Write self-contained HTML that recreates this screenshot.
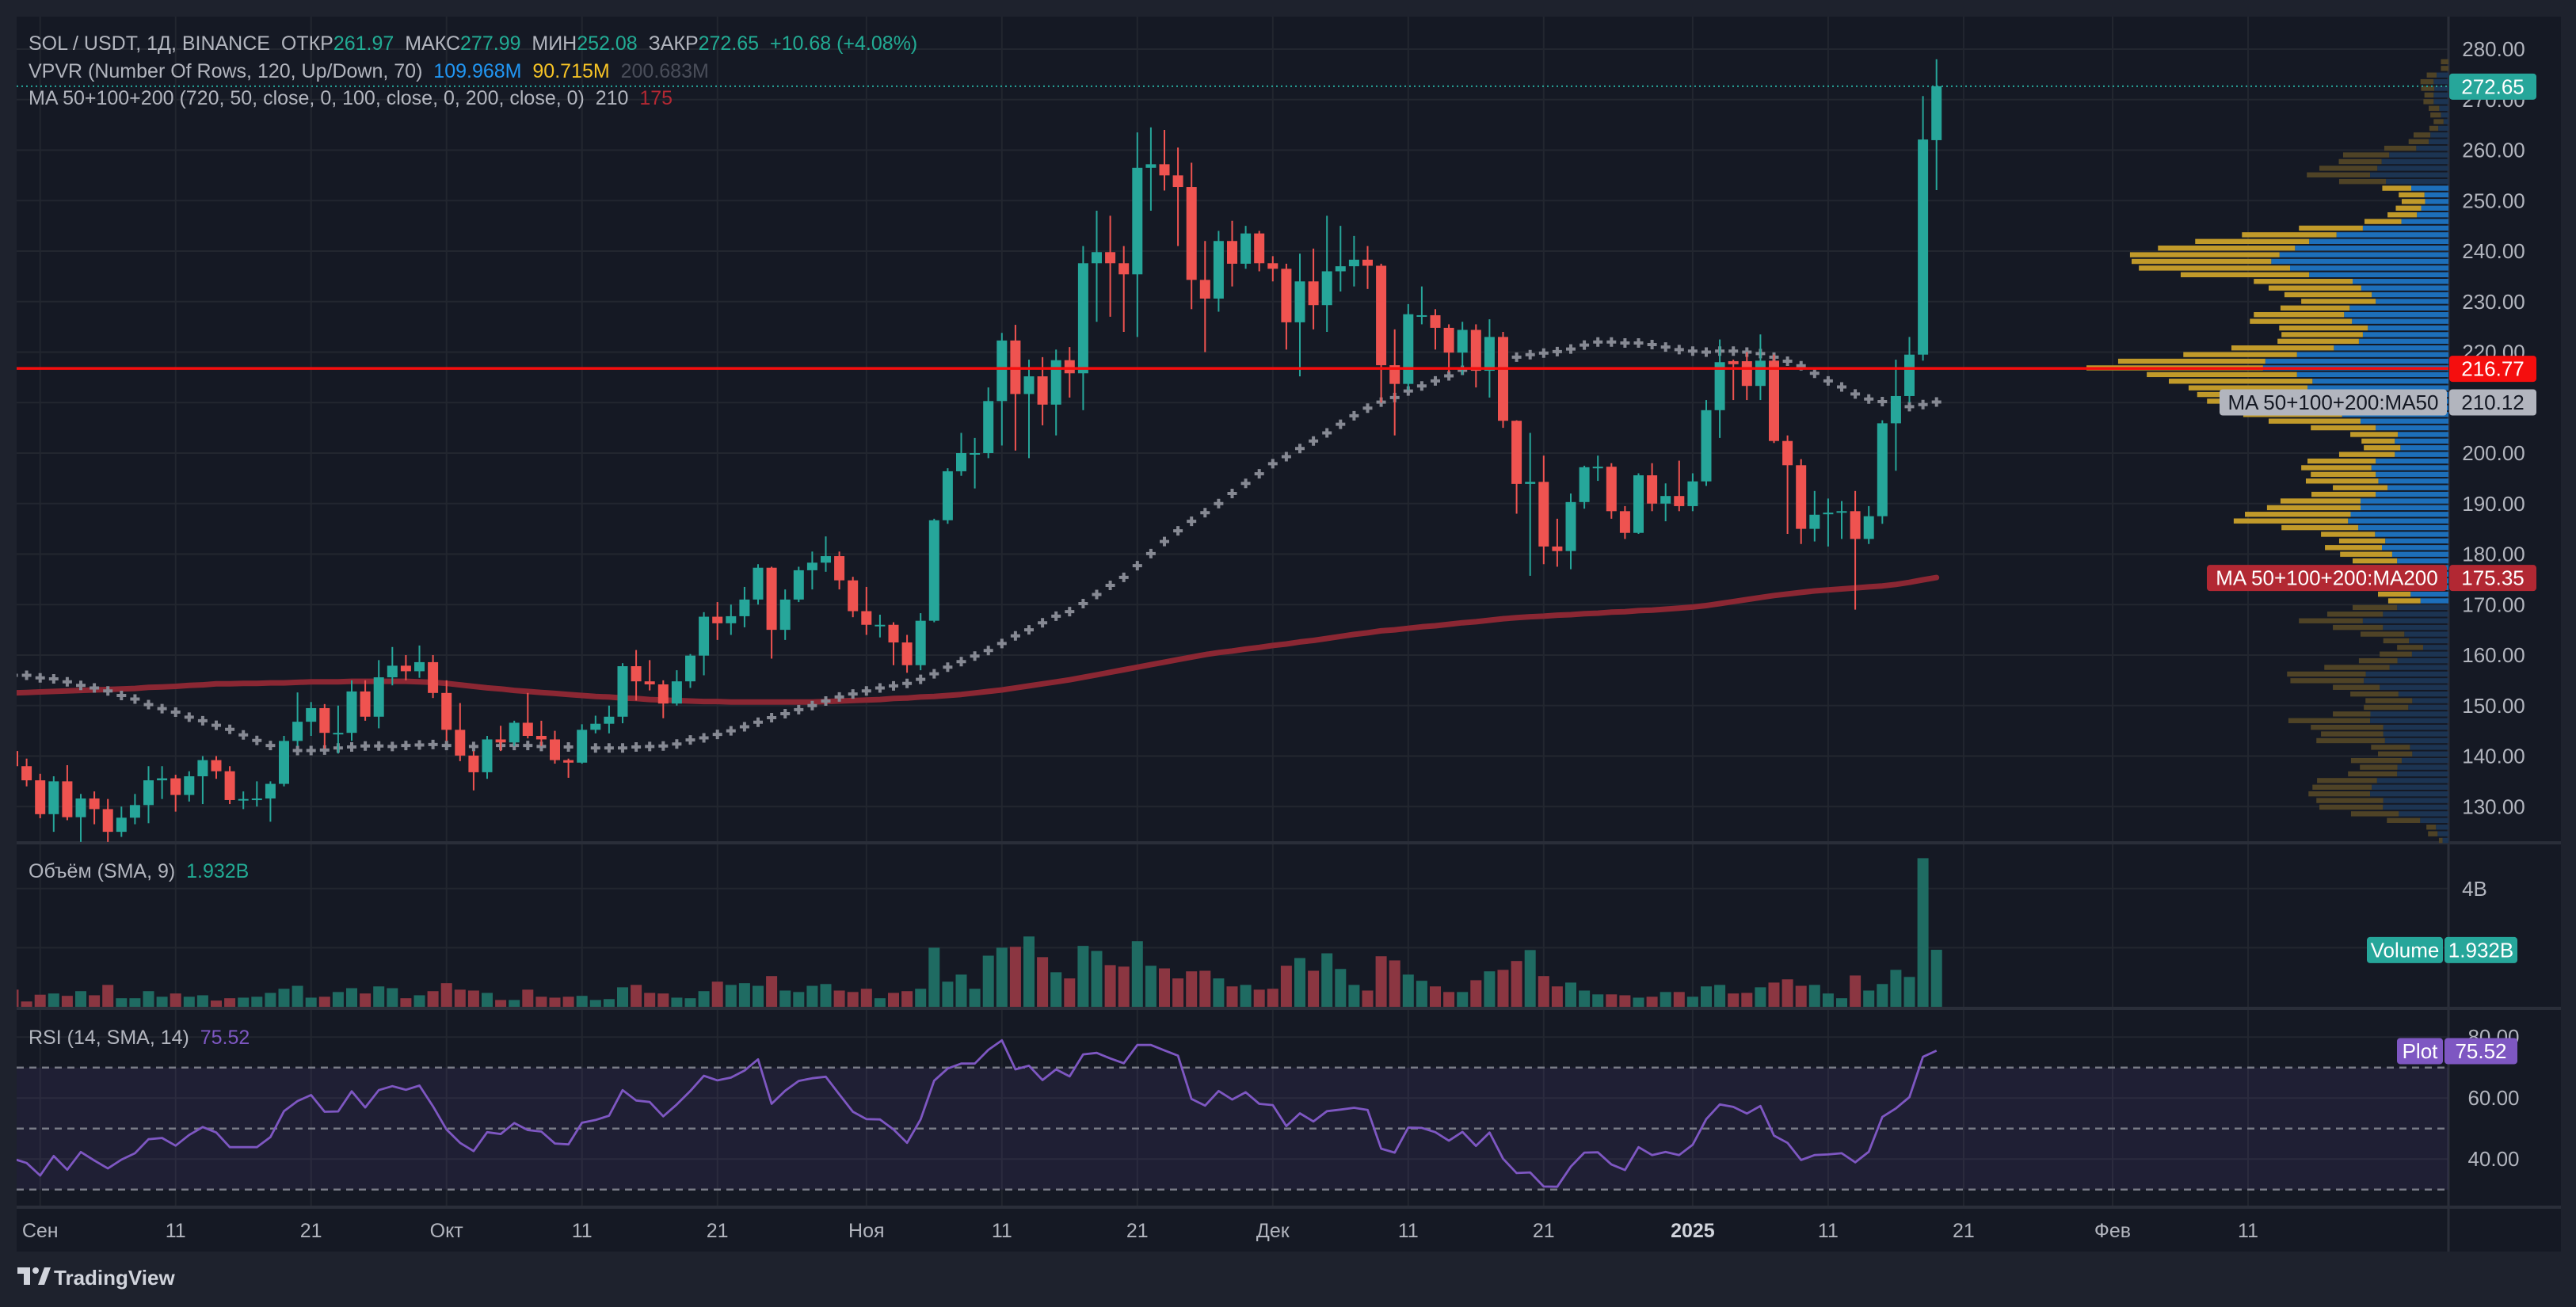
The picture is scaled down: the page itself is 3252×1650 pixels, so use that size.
<!DOCTYPE html>
<html><head><meta charset="utf-8"><style>
html,body{margin:0;padding:0;background:#1e222d;}
svg{display:block;font-family:"Liberation Sans","DejaVu Sans",sans-serif;}
.pre{white-space:pre;}
</style></head><body>
<svg id="chart" width="3252" height="1650" viewBox="0 0 3252 1650" xmlns="http://www.w3.org/2000/svg">
<defs>
<clipPath id="paneClip"><rect x="21" y="21" width="3070" height="1503"/></clipPath>
</defs>
<rect x="0" y="0" width="3252" height="1650" fill="#1e222d"/>
<rect x="21" y="21" width="3212" height="1559" fill="#151924"/>
<g id="grid"></g>
<g id="vpvr" clip-path="url(#paneClip)"></g>
<g id="main" clip-path="url(#paneClip)"></g>
<g id="vol" clip-path="url(#paneClip)"></g>
<g id="rsi" clip-path="url(#paneClip)"></g>
<g id="axes"></g>

<g font-size="25">
<text class="pre" x="36" y="63" fill="#b2b5be">SOL / USDT, 1Д, BINANCE  ОТКР<tspan fill="#22ab94">261.97</tspan>  МАКС<tspan fill="#22ab94">277.99</tspan>  МИН<tspan fill="#22ab94">252.08</tspan>  ЗАКР<tspan fill="#22ab94">272.65</tspan>  <tspan fill="#22ab94">+10.68 (+4.08%)</tspan></text>
<text class="pre" x="36" y="98" fill="#b2b5be">VPVR (Number Of Rows, 120, Up/Down, 70)  <tspan fill="#2196f3">109.968M</tspan>  <tspan fill="#f7c325">90.715M</tspan>  <tspan fill="#4a4e5a">200.683M</tspan></text>
<text class="pre" x="36" y="132" fill="#b2b5be">MA 50+100+200 (720, 50, close, 0, 100, close, 0, 200, close, 0)  210  <tspan fill="#b22833">175</tspan></text>
<text class="pre" x="36" y="1108" fill="#b2b5be">Объём (SMA, 9)  <tspan fill="#22ab94">1.932B</tspan></text>
<text class="pre" x="36" y="1318" fill="#b2b5be">RSI (14, SMA, 14)  <tspan fill="#7e57c2">75.52</tspan></text>
</g>

<g>
<path d="M22 1600 h16 v22 h-8 v-14 h-8 z" fill="#d1d4dc"/>
<circle cx="45" cy="1604" r="4" fill="#d1d4dc"/>
<path d="M48 1622 l8 -22 h8 l-8 22 z" fill="#d1d4dc"/>
<text x="68" y="1622" font-size="26" font-weight="bold" fill="#d1d4dc">TradingView</text>
</g>
</svg>
<script>
// ---------- data ----------
const opens=[141,138,135.2,128.5,135,127.9,131.6,129.5,125,127.8,
130.3,135.2,135.6,132.3,136,139.2,137,131.3,131.5,131.6,
134.5,143,146.8,149.5,144.6,144.6,152.8,147.8,155.6,157.9,
156.8,158.6,152.5,145.2,140.1,136.8,143.3,142.7,146.6,144,
143.3,139.2,138.7,145.2,146.4,147.8,157.8,154.8,154.2,150.4,
154.8,159.9,167.6,166.3,167.7,171,177.3,165,171,176.8,
178.3,179.6,174.8,168.7,166,166,162.5,158,166.8,186.7,
196.4,200,200,210.3,222.3,211.7,215.2,209.6,218.4,215.8,
237.6,239.8,237.6,235.4,256.5,257.2,255,252.7,234.3,230.6,
242,237.5,243.5,237.6,236.5,225.9,234,229.3,236,237,
238.3,237.1,217.4,213.7,227.3,227.3,224.8,219.9,224.4,216.3,
223,206.4,193.9,194.3,181.5,180.6,190.3,197.3,197.3,188.5,
184.2,195.6,190,191.5,189.5,194.4,208.5,218.2,218.2,213.3,
218.3,202.4,197.6,185,188.2,188.5,188.5,183,187.5,205.9,
211.3,219.5,261.97];
const closes=[138,135.2,128.5,135,127.9,131.6,129.5,125,127.8,130.3,
135.2,135.6,132.3,136,139.2,137,131.3,131.5,131.6,134.5,
143,146.8,149.5,144.6,144.6,152.8,147.8,155.6,157.9,156.8,
158.6,152.5,145.2,140.1,136.8,143.3,142.7,146.6,144,143.3,
139.2,138.7,145.2,146.4,147.8,157.8,154.8,154.2,150.4,154.8,
159.9,167.6,166.3,167.7,171,177.3,165,171,176.8,178.3,
179.6,174.8,168.7,166,166,162.5,158,166.8,186.7,196.4,
200,200,210.3,222.3,211.7,215.2,209.6,218.4,215.8,237.6,
239.8,237.6,235.4,256.5,257.2,255,252.7,234.3,230.6,242,
237.5,243.5,237.6,236.5,225.9,234,229.3,236,237,238.3,
237.1,217.4,213.7,227.5,227.3,224.8,219.9,224.4,216.3,223,
206.4,193.9,194.3,181.5,180.6,190.3,197.2,197.3,188.5,184.2,
195.6,190,191.5,189.5,194.4,208.5,218,217.6,213.3,218.3,
202.4,197.6,185,187.8,188.2,188.5,183,187.5,205.9,211.3,
219.5,262.1,272.65];
const highs=[143,139.5,136.5,136,138.2,132.5,133,131.5,130,132.5,
138,138,136.3,137,140,140,138,133,135,135,
144,152.6,150.7,150.3,150,155,155,159,161.6,160,
161.9,160,155,150.5,141,144,146,147,152.5,147,
145,139.5,146.3,148,150,158.4,161,159,155,157,
160.2,168.5,170.5,170,173.5,178,177.5,173,177.5,180.5,
183.5,180.5,175.5,173.5,168,166.5,164,168.3,187,197,
204,203,213,223.8,225.4,218.5,219,220.5,221,241,
248,247,241,263.5,264.5,264,260.5,257.5,242,244,
246,245,244,239,237.5,239.5,240.5,247,245,243,
241,237.5,224.5,229.5,233,228.5,225.5,226,225.5,226.5,
224,206.5,204,199.5,187,192,197.5,199.5,198,189.5,
196,198,194,198.5,196,210.5,222.5,218.5,220,223.5,
219.5,203.5,198.8,192.5,191,190.5,192.5,189.5,206.5,218.5,
223,270.7,277.99];
const lows=[137,134,127.7,125,127.3,123,126.5,123,124,126.5,
126.7,131.5,129,131,130.5,135.5,130.5,129.5,130,127,
134,142,144,141.5,140.5,143,147,145.5,154,155,
155.5,151.5,143,139,133.2,135.5,141,142,143.5,142,
138.5,135.7,138.5,144.5,144.5,146.5,151,153,147.5,150,
153.5,156,163,164,165.5,170,159.3,163,170.5,173,
176.5,173,167.5,164,163.5,158,156.5,157,166.5,186,
195.5,193,199,201.5,200.5,199,205.5,203.5,211,208.5,
226,227,224,223,248,252,241,228.5,220,228,
233,236.5,236,234,220.5,215.2,224.5,224,232,233,
232.5,210,203.5,212.5,225.5,220.5,216,215.5,213,211,
205,188,175.7,178,177.5,177,189,194.5,187,183,
184,188.5,186.5,188.5,188.5,193.5,203,210.5,210.5,210.5,
202,184,182,182.5,181.5,183,169,182,186,196.5,
210,218.3,252.08];
const volumes=[0.58,0.18,0.41,0.45,0.37,0.53,0.39,0.74,0.29,0.29,
0.53,0.34,0.45,0.34,0.39,0.21,0.29,0.31,0.34,0.47,
0.61,0.71,0.31,0.34,0.50,0.63,0.45,0.69,0.63,0.29,
0.39,0.53,0.80,0.58,0.55,0.47,0.23,0.23,0.58,0.34,
0.31,0.34,0.37,0.23,0.26,0.66,0.74,0.47,0.45,0.31,
0.29,0.53,0.85,0.74,0.80,0.71,1.04,0.55,0.50,0.71,
0.77,0.55,0.50,0.61,0.29,0.47,0.53,0.61,2.00,0.85,
1.09,0.61,1.73,2.00,2.03,2.38,1.68,1.17,0.96,2.06,
1.89,1.41,1.36,2.22,1.39,1.30,0.96,1.20,1.22,0.96,
0.69,0.74,0.58,0.61,1.39,1.65,1.22,1.81,1.28,0.74,
0.55,1.71,1.57,1.09,0.88,0.69,0.50,0.50,0.90,1.20,
1.25,1.55,1.92,1.04,0.69,0.82,0.55,0.42,0.42,0.39,
0.31,0.34,0.50,0.50,0.34,0.69,0.74,0.45,0.47,0.66,
0.82,0.93,0.71,0.74,0.45,0.29,1.06,0.55,0.77,1.25,
1.01,5.03,1.93];
const rsiValues=[40.1,38.7,34.6,41.0,36.5,42.3,39.5,36.9,39.8,41.9,
46.5,46.9,44.4,47.9,50.5,48.7,43.9,43.9,43.9,47.2,
55.7,59.0,61.0,55.5,55.6,62.2,56.9,62.6,63.9,62.7,
64.1,57.3,49.7,45.3,42.6,48.8,48.2,51.8,49.5,49.0,
45.1,44.8,51.9,52.8,54.2,62.6,59.2,58.7,54.0,57.9,
62.3,67.3,65.8,66.7,69.0,72.7,58.1,62.4,65.6,66.5,
67.0,61.2,55.5,53.1,53.0,49.7,45.3,53.0,65.7,69.7,
71.3,71.3,75.8,78.9,69.4,70.6,65.9,69.4,67.1,74.3,
74.8,73.0,71.4,77.4,77.4,75.6,73.9,59.7,57.5,62.3,
59.5,61.9,58.1,57.7,50.8,55.0,52.3,55.7,56.2,56.8,
56.1,43.4,42.1,50.3,50.2,48.8,46.0,48.9,44.3,48.7,
40.1,35.4,35.6,31.0,30.9,37.5,42.1,42.2,38.2,36.4,
43.9,41.3,42.3,41.3,44.7,53.1,57.9,57.1,54.9,57.4,
47.7,45.3,39.7,41.3,41.5,41.9,38.9,42.4,53.8,56.6,
60.3,73.5,75.52];
const ma50=[156,156,155.5,155.3,154.7,154,153.5,152.9,152,151.3,150.2,149.4,148.7,147.7,147,146.1,145.3,144.2,143.1,142.1,141.1,
141.1,141.1,141.2,141.6,141.8,142,142,141.9,142.1,142.2,142.3,142.1,141.9,141.9,142.1,142.1,142.1,142.1,141.9,141.9,141.8,141.9,141.6,141.6,141.6,141.8,141.9,142,142.4,143.2,143.6,
144.3,145,145.8,146.7,147.6,148.4,149.2,150,150.9,151.7,152.3,152.9,153.5,153.9,154.4,155.2,156.3,157.6,158.7,159.8,160.9,162.3,163.8,165,166.4,167.7,168.6,170.2,172,173.8,175.4,177.7,180.1,182.5,184.6,186.5,188.2,190,192,194,195.9,197.9,199.3,200.9,202.4,204,205.7,207.4,208.9,210.1,
211,212.3,213.3,214.3,215.3,216.4,217.4,218.2,218.7,219,219.5,219.8,220.1,220.6,221.4,222,222,221.8,221.8,221.5,221,220.5,220.2,220,220.2,220.2,220,219.7,219,218.2,217.3,215.8,214.3,213.1,211.7,210.7,210.2,209.8,209.2,209.6,210.12];
const ma200=[152.5,152.6,152.7,152.8,152.9,153.0,153.1,153.2,153.3,153.4,153.6,153.7,153.8,154.0,154.1,154.3,
154.3,154.4,154.4,154.5,154.5,154.6,154.7,154.7,154.7,154.8,154.8,154.8,154.8,154.8,
154.7,154.6,154.4,154.1,153.8,153.5,153.3,153.0,152.8,152.6,152.4,152.2,152.0,
151.8,151.7,151.5,151.4,151.2,151.1,151.0,150.9,150.8,150.8,150.7,150.7,150.7,150.7,150.7,150.7,150.7,
150.8,150.9,151.0,151.1,151.2,151.4,151.5,151.7,151.8,152.0,152.2,152.5,152.8,153.1,153.5,153.9,154.3,154.7,155.1,155.6,
156.1,156.6,157.1,157.6,158.1,158.6,159.1,159.6,160.1,160.5,160.8,161.2,161.5,161.9,162.2,162.6,162.9,163.3,163.7,164.1,164.4,164.8,
165.0,165.3,165.6,165.8,166.1,166.4,166.6,166.9,167.2,167.4,167.6,167.7,167.9,168.0,168.2,168.3,168.5,168.6,168.8,168.9,169.1,169.3,
169.5,169.8,170.2,170.6,171.0,171.4,171.8,172.1,172.4,172.7,172.9,173.1,173.3,173.5,173.7,174.0,174.4,174.9,175.35];
// VPVR rows top -> bottom (up = blue, down = yellow)
const vpUp=[0,0,3.6,4.5,4.3,4.5,4.5,2.8,2.3,1.5,3.1,5.5,6.0,9.8,18.0,20.3,21.6,23.8,19.0,11.3,7.3,7.1,8.3,9.6,14.3,26.0,34.0,42.3,46.6,51.3,53.8,48.1,42.3,29.1,26.5,23.3,22.1,30.0,31.7,29.3,24.5,26.0,27.2,34.8,46.0,55.6,56.3,46.0,41.3,42.8,42.3,40.3,38.3,32.3,26.7,22.1,15.4,16.3,14.6,16.3,22.1,23.4,22.1,21.3,18.5,22.1,26.7,26.7,29.7,30.5,27.4,22.3,19.2,20.2,17.1,15.6,14.3,13.3,12.3,11.9,11.5,8.5,15.6,19.9,26.0,19.9,13.4,12.0,7.7,11.1,15.5,17.9,25.1,25.7,20.9,15.2,11.0,12.2,23.7,23.8,19.8,19.8,19.3,11.7,11.0,14.2,15.5,15.6,21.7,23.3,23.8,19.8,19.9,15.1,8.6,3.8,3.3,1.8];
const vpDown=[2.3,2.3,3.0,4.0,4.0,2.8,3.1,3.2,3.2,3.0,2.7,5.1,6.1,9.7,14.0,13.0,17.6,19.2,14.2,8.8,7.8,7.1,7.7,8.9,11.2,19.4,28.7,34.6,41.6,45.4,42.4,45.9,39.0,30.0,28.1,26.5,22.6,21.0,27.4,31.0,26.9,24.7,24.7,31.1,34.5,44.7,53.6,45.6,43.6,36.1,34.0,33.0,30.0,30.0,27.9,19.7,14.4,10.1,11.1,16.9,20.7,21.3,19.7,22.0,16.6,19.5,24.3,28.4,32.1,34.7,23.3,16.4,14.0,17.3,15.8,13.5,14.0,13.0,12.0,11.4,9.9,9.8,13.5,16.9,19.4,15.2,13.3,7.8,7.9,9.8,11.7,19.8,23.9,22.3,14.2,14.6,14.2,13.5,11.4,24.8,22.0,18.9,20.8,11.8,10.4,15.4,11.4,14.9,18.2,18.0,18.7,20.3,19.3,14.5,10.1,2.9,2.9,1.1];
const priceTicks=[130,140,150,160,170,180,190,200,210,220,230,240,250,260,270,280];
const rsiTicks=[40,60,80];
const timeLabels=["Сен","11","21","Окт","11","21","Ноя","11","21","Дек","11","21","2025","11","21","Фев","11"];
const timeLabelIdx=[2,12,22,32,42,52,63,73,83,93,103,113,124,134,144,155,165];
const lastPrice=272.65, hLine=216.77;

// ---------- scales ----------
const NS="http://www.w3.org/2000/svg";
const PL=21, PR=3091;
function X(i){return 16.5+17.1*i;}
function PY(p){return 62+(280-p)*6.375;}
function VY(v){return 1271-v*37.3;}
function RY(r){return 1424.7-(r-50)*3.85;}
const vpTop=277.5, vpStep=1.318, vpScale=4.158;
function el(tag,attrs,parent){const e=document.createElementNS(NS,tag);for(const k in attrs)e.setAttribute(k,attrs[k]);parent.appendChild(e);return e;}
const grid=document.getElementById('grid'), main=document.getElementById('main'), vol=document.getElementById('vol'), rsi=document.getElementById('rsi'), axes=document.getElementById('axes'), vp=document.getElementById('vpvr');

// grid
timeLabelIdx.forEach((ti,k)=>{
  const x=X(ti); if(x>PR) return;
  const l=el('line',{x1:x,x2:x,y1:21,y2:1524,stroke:'#22262f','stroke-width':2},grid);
  
  
});
priceTicks.forEach(p=>{
  const l=el('line',{x1:PL,x2:PR,y1:PY(p),y2:PY(p),stroke:'#22262f','stroke-width':2},grid);
  
  
});
[2,4].forEach(v=>{
  const l=el('line',{x1:PL,x2:PR,y1:VY(v),y2:VY(v),stroke:'#22262f','stroke-width':2},grid);
  
  
});
rsiTicks.forEach(v=>{
  const l=el('line',{x1:PL,x2:PR,y1:RY(v),y2:RY(v),stroke:'#22262f','stroke-width':2},grid);
  
  
});
[1064,1273,1524].forEach(y=>{
  const l=el('line',{x1:PL,x2:3233,y1:y,y2:y,stroke:'#2a2e39','stroke-width':4},grid);
  
  
});
const ax=el('line',{x1:PR,x2:PR,y1:21,y2:1580,stroke:'#2a2e39','stroke-width':3},grid);



// VPVR
for(let r=0;r<vpUp.length;r++){
  const price=vpTop-r*vpStep;
  const y=PY(price)-3.2;
  const inVA=price>=170.5&&price<=252.5;
  const upW=vpUp[r]*vpScale, dnW=vpDown[r]*vpScale;
  const b=el('rect',{x:PR-upW,y:y,width:upW,height:6.4,fill:inVA?'#1d6fba':'#1c3452'},vp);
  
  
  const d=el('rect',{x:PR-upW-dnW,y:y,width:dnW,height:6.4,fill:inVA?'#c19a2a':'#4f4326'},vp);
  
  
}

// MA200
let pts=ma200.map((v,i)=>X(i).toFixed(1)+','+PY(v).toFixed(1)).join(' ');
const m2=el('polyline',{points:pts,fill:'none',stroke:'#8b2733','stroke-width':7,'stroke-linejoin':'round','stroke-linecap':'round'},main);



// MA50 crosses
ma50.forEach((v,i)=>{
  const x=X(i), y=PY(v);
  const g=el('path',{d:`M${x-6} ${y-2}h12v4h-12zM${x-2} ${y-6}h4v12h-4z`,fill:'#868993'},main);
  
  
});

// candles
const n=Math.min(opens.length,closes.length,highs.length,lows.length);
for(let i=0;i<n;i++){
  const o=opens[i],c=closes[i],up=c>=o,col=up?'#26a69a':'#ef5350',x=X(i);
  const w=el('rect',{x:x-1,y:PY(highs[i]),width:2,height:Math.max(1,PY(lows[i])-PY(highs[i])),fill:col},main);
  
  
  const top=PY(Math.max(o,c)),h=Math.max(2,Math.abs(PY(o)-PY(c)));
  const b=el('rect',{x:x-6.5,y:top,width:13,height:h,fill:col},main);
  
  
}
// horizontal level line and last price line
const hl=el('line',{x1:PL,x2:PR,y1:PY(hLine),y2:PY(hLine),stroke:'#f50e0e','stroke-width':3.5},main);


const lp=el('line',{x1:PL,x2:PR,y1:PY(lastPrice),y2:PY(lastPrice),stroke:'#26a69a','stroke-width':2,'stroke-dasharray':'2 4'},main);



// volume bars
for(let i=0;i<volumes.length;i++){
  const up=closes[i]>=opens[i];
  const r=el('rect',{x:X(i)-7,y:VY(volumes[i]),width:14,height:1271-VY(volumes[i]),fill:up?'#1f6b62':'#8b3641'},vol);
  
  
}

// RSI
const band=el('rect',{x:PL,y:RY(70),width:PR-PL,height:RY(30)-RY(70),fill:'rgba(126,87,194,0.1)'},rsi);


[70,50,30].forEach(v=>{
  const l=el('line',{x1:PL,x2:PR,y1:RY(v),y2:RY(v),stroke:'#787b86','stroke-width':2.5,'stroke-dasharray':'9 7'},rsi);
  
  
});
pts=rsiValues.map((v,i)=>X(i).toFixed(1)+','+RY(v).toFixed(1)).join(' ');
const rl=el('polyline',{points:pts,fill:'none',stroke:'#7e57c2','stroke-width':2.8,'stroke-linejoin':'round'},rsi);



// axis labels
function txt(s,x,y,attrs,parent){const t=el('text',Object.assign({x:x,y:y},attrs),parent);t.textContent=s;return t;}
priceTicks.forEach(p=>{
  const t=txt(p.toFixed(2),3148,PY(p)+9,{fill:'#b2b5be','font-size':26,'text-anchor':'middle'},axes);
  
  
});
const t4=txt('4B',3124,VY(4)+9,{fill:'#b2b5be','font-size':26,'text-anchor':'middle'},axes);


rsiTicks.forEach(v=>{
  const t=txt(v.toFixed(2),3148,RY(v)+9,{fill:'#b2b5be','font-size':26,'text-anchor':'middle'},axes);
  
  
});
timeLabels.forEach((s,k)=>{
  const x=X(timeLabelIdx[k]); if(x>PR) return;
  const bold=s==='2025';
  const t=txt(s,x,1562,{fill:bold?'#d1d4dc':'#b2b5be','font-size':25,'text-anchor':'middle','font-weight':bold?'bold':'normal'},axes);
  
  
});
// price-scale badges
function badge(x,y,w,h,fill,color,s,name){
  const g=el('g',{},axes);
  
  
  el('rect',{x:x,y:y,width:w,height:h,rx:4,fill:fill},g);
  txt(s,x+w/2,y+h/2+9,{fill:color,'font-size':26,'text-anchor':'middle'},g);
}
badge(3092,PY(lastPrice)-16,110,33,'#26a69a','#ffffff','272.65','last-price-badge');
badge(3092,PY(hLine)-16,110,33,'#f50e0e','#ffffff','216.77','level-price-badge');
badge(2802,PY(210.12)-16,287,33,'#b2b5be','#131722','MA 50+100+200:MA50','ma50-name-badge');
badge(3092,PY(210.12)-16,110,33,'#b2b5be','#131722','210.12','ma50-value-badge');
badge(2786,PY(175.35)-16,303,33,'#b22833','#ffffff','MA 50+100+200:MA200','ma200-name-badge');
badge(3092,PY(175.35)-16,110,33,'#b22833','#ffffff','175.35','ma200-value-badge');
badge(2988,VY(1.932)-16,96,33,'#26a69a','#ffffff','Volume','volume-name-badge');
badge(3086,VY(1.932)-16,92,33,'#26a69a','#ffffff','1.932B','volume-value-badge');
badge(3026,RY(75.52)-16,58,33,'#7e57c2','#ffffff','Plot','rsi-name-badge');
badge(3086,RY(75.52)-16,92,33,'#7e57c2','#ffffff','75.52','rsi-value-badge');
</script>
</body></html>
